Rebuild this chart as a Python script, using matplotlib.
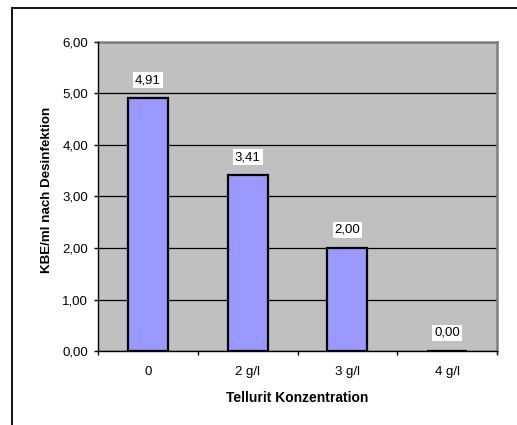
import matplotlib.pyplot as plt
from matplotlib.lines import Line2D
from matplotlib.ticker import FixedLocator

categories = ["0", "2 g/l", "3 g/l", "4 g/l"]
values = [4.91, 3.41, 2.00, 0.00]
y_ticks = [0, 1, 2, 3, 4, 5, 6]

plt.rcParams["font.family"] = ["Liberation Sans", "DejaVu Sans"]

fig = plt.figure(figsize=(5.17, 4.25), dpi=100)
ax = fig.add_axes([0.1896, 0.1741, 0.7718, 0.7271])

x = list(range(len(categories)))
ax.bar(x, values, width=0.4, color="#9999FF", edgecolor="black",
       linewidth=1.6, zorder=3)

ax.set_facecolor("#C0C0C0")
ax.set_xlim(-0.5, len(categories) - 0.5)
ax.set_ylim(0, 6)
ax.set_yticks(y_ticks)
ax.set_yticklabels([f"{v:.2f}".replace(".", ",") for v in y_ticks], fontsize=9.5)
ax.yaxis.grid(True, color="black", linewidth=0.9, zorder=1)
ax.set_axisbelow(True)

ax.set_xticks(x)
ax.set_xticklabels(categories, fontsize=9.5)
ax.tick_params(axis="x", which="major", length=0, pad=11)
ax.xaxis.set_minor_locator(FixedLocator([i - 0.5 for i in range(len(categories) + 1)]))
ax.tick_params(axis="x", which="minor", length=3, width=1, color="black")
ax.tick_params(axis="y", length=3, width=1, color="black", pad=4)

for side in ["top", "right"]:
    ax.spines[side].set_color("#808080")
    ax.spines[side].set_linewidth(1.8)
for side in ["left", "bottom"]:
    ax.spines[side].set_color("black")
    ax.spines[side].set_linewidth(1.0)
    ax.spines[side].set_zorder(4)

for xi, v in zip(x, values):
    ax.annotate(f"{v:.2f}".replace(".", ","), (xi, v), xytext=(0, 13),
                textcoords="offset points", ha="center", va="center",
                fontsize=9.5, zorder=5,
                bbox=dict(boxstyle="square,pad=0.15", facecolor="white",
                          edgecolor="none"))

ax.set_xlabel("Tellurit Konzentration", fontsize=10, fontweight="bold", va="top")
ax.xaxis.set_label_coords(0.5, -0.129)
ax.set_ylabel("KBE/ml nach Desinfektion", fontsize=9.6, fontweight="bold")
ax.yaxis.set_label_coords(-0.113, 0.521)

# chart frame (top and left edges)
fig.add_artist(Line2D([12 / 517, 12 / 517], [0, 1 - 8 / 425],
                      transform=fig.transFigure, color="black", linewidth=1.3))
fig.add_artist(Line2D([12 / 517, 1], [1 - 8 / 425, 1 - 8 / 425],
                      transform=fig.transFigure, color="black", linewidth=1.3))

fig.savefig("out.png", dpi=100)
